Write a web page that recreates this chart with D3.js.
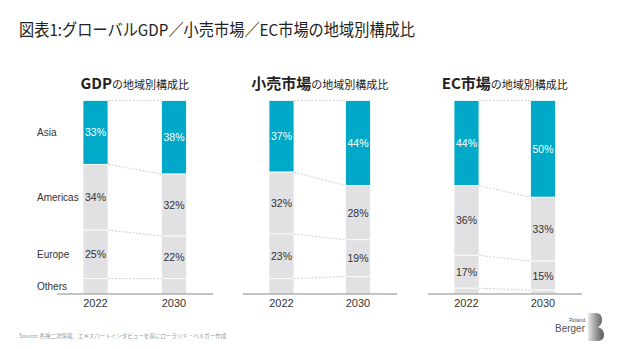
<!DOCTYPE html>
<html>
<head>
<meta charset="utf-8">
<script src="https://cdn.jsdelivr.net/npm/d3@7"></script>
<style>
  body { margin: 0; background: #fff; }
  svg { display: block; }
</style>
</head>
<body>
<svg id="chart"></svg>
<script>
// data
const regions = ["Asia", "Americas", "Europe", "Others"];
const years = ["2022", "2030"];
const gdpShare = [[33, 34, 25, 8], [38, 32, 22, 8]];
const retailShare = [[37, 32, 23, 8], [44, 28, 19, 9]];
const ecShare = [[44, 36, 17, 3], [50, 33, 15, 2]];
const panelTitles = [["GDP", "の地域別構成比"], ["小売市場", "の地域別構成比"], ["EC市場", "の地域別構成比"]];

const w = 620, h = 349;
const teal = "#00a9c7", grey = "#e1e1e3";
const jp = "'Noto Sans CJK JP', 'Noto Sans', sans-serif";
const latin = "'Liberation Sans', Arial, sans-serif";

const svg = d3.select("#chart").attr("width", w).attr("height", h);

svg.append("text")
  .attr("x", 19).attr("y", 36)
  .attr("font-family", jp).attr("font-size", 16.5).attr("font-weight", 400)
  .attr("fill", "#222")
  .attr("textLength", 396).attr("lengthAdjust", "spacingAndGlyphs")
  .text("図表1:グローバルGDP／小売市場／EC市場の地域別構成比");

const y = d3.scaleLinear().domain([0, 100]).range([294, 100.5]);
const bw = 25;

const panels = [
  {data: gdpShare, x0: 57, x1: 213},
  {data: retailShare, x0: 243, x1: 397},
  {data: ecShare, x0: 428, x1: 582}
];

panels.forEach((p, pi) => {
  const g = svg.append("g");
  // bar centres
  const xc = d3.scalePoint().domain(years).range([p.x0 + 38.5, p.x1 - 39]);
  const x = d => xc(d) - bw / 2;

  // stacked from top: Asia first
  const stacks = p.data.map((vals, yi) => {
    let acc = 100;
    return vals.map((v, ri) => {
      const top = acc; acc -= v;
      return {year: years[yi], region: regions[ri], v: v, top: top, bottom: acc};
    });
  });

  stacks.forEach(segs => {
    g.selectAll(null).data(segs).enter().append("rect")
      .attr("x", d => x(d.year))
      .attr("y", d => y(d.top))
      .attr("width", bw)
      .attr("height", d => y(d.bottom) - y(d.top))
      .attr("fill", d => d.region === "Asia" ? teal : grey)
      .attr("stroke", "#fff")
      .attr("stroke-width", 0.8);

    g.selectAll(null).data(segs.filter(d => d.region !== "Others")).enter().append("text")
      .attr("x", d => xc(d.year))
      .attr("y", d => (y(d.top) + y(d.bottom)) / 2 + 4)
      .attr("text-anchor", "middle")
      .attr("font-family", latin).attr("font-size", 10.5)
      .attr("fill", d => d.region === "Asia" ? "#fff" : "#333")
      .text(d => d.v + "%");
  });

  // dashed connectors
  const tops = stacks[0].map((d, i) => ({a: d.top, b: stacks[1][i].top}));
  g.selectAll(null).data(tops).enter().append("line")
    .attr("x1", x(years[0]) + bw).attr("x2", x(years[1]))
    .attr("y1", d => y(d.a)).attr("y2", d => y(d.b))
    .attr("stroke", "#c4c4c4").attr("stroke-width", 0.8)
    .attr("stroke-dasharray", "2,1.5");

  // baseline
  g.append("line")
    .attr("x1", p.x0).attr("x2", p.x1)
    .attr("y1", y(0)).attr("y2", y(0))
    .attr("stroke", "#888").attr("stroke-width", 1);

  g.selectAll(null).data(years).enter().append("text")
    .attr("x", d => xc(d)).attr("y", 307)
    .attr("text-anchor", "middle")
    .attr("font-family", latin).attr("font-size", 11).attr("fill", "#333")
    .text(d => d);

  // panel title
  const t = g.append("text")
    .attr("x", (xc(years[0]) + xc(years[1])) / 2).attr("y", 89)
    .attr("text-anchor", "middle")
    .attr("font-family", jp).attr("fill", "#222");
  t.append("tspan").attr("font-size", 15).attr("font-weight", 700).text(panelTitles[pi][0]);
  t.append("tspan").attr("font-size", 11).text(panelTitles[pi][1]);

  // region labels on the left, taken from first panel 2022 stack
  if (pi === 0) {
    svg.selectAll(null).data(stacks[0]).enter().append("text")
      .attr("x", 37)
      .attr("y", d => (y(d.top) + y(d.bottom)) / 2 + 4)
      .attr("font-family", latin).attr("font-size", 10).attr("fill", "#333")
      .text(d => d.region);
  }
});

// source
svg.append("text")
  .attr("x", 19).attr("y", 338)
  .attr("font-family", jp).attr("font-size", 5.5).attr("fill", "#999")
  .text("Source: 各種二次情報、エキスパートインタビューを基にローランド・ベルガー作成");

// logo
const grad = svg.append("defs").append("linearGradient").attr("id", "lg")
  .attr("x1", "0").attr("x2", "1");
grad.append("stop").attr("offset", "0").attr("stop-color", "#e8e8e8");
grad.append("stop").attr("offset", "0.5").attr("stop-color", "#9a9a9a");
grad.append("stop").attr("offset", "1").attr("stop-color", "#555");
svg.append("path")
  .attr("d", "M588,313 L596,313 Q602,313 602,320 Q602,325 598,327 Q604,329 604,335 Q604,341 597,341 L588,341 Z")
  .attr("fill", "url(#lg)");
svg.append("text").attr("x", 585).attr("y", 322).attr("text-anchor", "end")
  .attr("font-family", latin).attr("font-size", 5).attr("fill", "#555").text("Roland");
svg.append("text").attr("x", 585).attr("y", 332).attr("text-anchor", "end")
  .attr("font-family", latin).attr("font-size", 10).attr("fill", "#555").text("Berger");
</script>
</body>
</html>
